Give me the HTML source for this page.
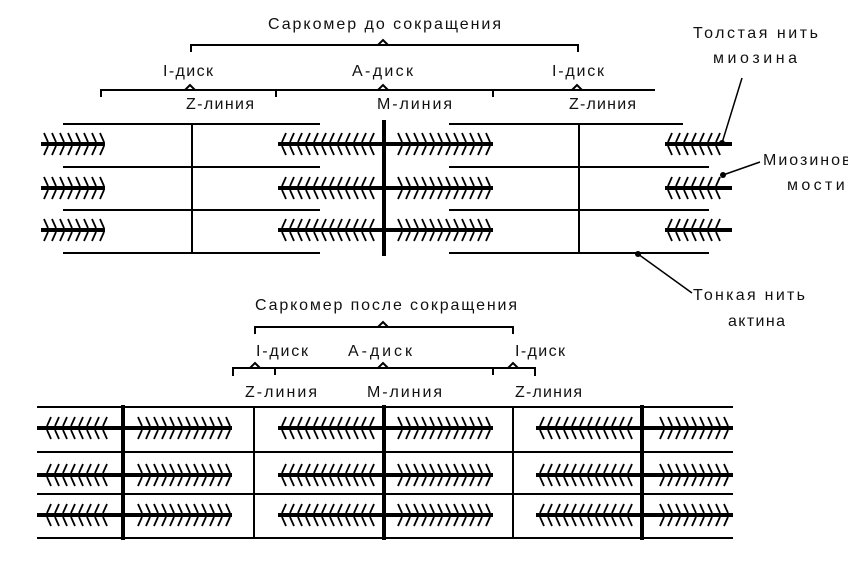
<!DOCTYPE html>
<html><head><meta charset="utf-8"><style>
html,body{margin:0;padding:0;background:#fff;width:848px;height:565px;overflow:hidden}
svg{display:block}
text{font-family:"Liberation Sans",sans-serif;font-size:16px;fill:#111}
</style></head><body>
<svg id="s" width="848" height="565" xmlns="http://www.w3.org/2000/svg">
<g stroke="#000" fill="none" stroke-width="2">
<!-- top brackets -->
<path d="M191 52 V45 H578 V52 M378 45 L383 40 L388 45"/>
<path d="M101 97 V90 H655 M185 90 L190 85 L195 90 M378 90 L383 85 L388 90 M572 90 L577 85 L582 90 M276 90 V97 M493 90 V97"/>
<!-- bottom brackets -->
<path d="M255 334 V327 H513 V334 M378 327 L383 322 L388 327"/>
<path d="M233 376 V368 H535 V376 M250 368 L255 363 L260 368 M378 368 L383 363 L388 368 M508 368 L513 363 L518 368 M275 368 V375 M493 368 V375"/>
<!-- top actin -->
<path d="M63 124H320 M63 167H320 M63 210H320 M63 253H320 M449 124H683 M449 167H709 M449 210H709 M449 253H709"/>
<path d="M192 124V253 M579 124V253"/>
<!-- bottom actin -->
<path d="M37 407H733 M37 452H733 M37 494H733 M37 538H733 M254 407V538 M513 407V538"/>
<!-- thick lines -->
<path stroke-width="4" d="M384 120V256 M123 405V540 M384 405V540 M642 405V540"/>
<!-- leaders -->
<path stroke-width="1.5" d="M742 78 L722 143 M760 162 L723 175 M638 254 L692 293"/>
</g>
<g fill="#000"><circle cx="722" cy="143" r="3"/><circle cx="723" cy="175" r="3"/><circle cx="638" cy="254" r="3"/></g>
<g id="m"></g>
<text x="268" y="29" textLength="233" lengthAdjust="spacing">Саркомер до сокращения</text>
<text x="163" y="76" textLength="50" lengthAdjust="spacing">I-диск</text>
<text x="352" y="76" textLength="61" lengthAdjust="spacing">A-диск</text>
<text x="552" y="76" textLength="52" lengthAdjust="spacing">I-диск</text>
<text x="186" y="109" textLength="68" lengthAdjust="spacing">Z-линия</text>
<text x="377" y="109" textLength="75" lengthAdjust="spacing">M-линия</text>
<text x="569" y="109" textLength="67" lengthAdjust="spacing">Z-линия</text>
<text x="255" y="310" textLength="262" lengthAdjust="spacing">Саркомер после сокращения</text>
<text x="256" y="356" textLength="52" lengthAdjust="spacing">I-диск</text>
<text x="348" y="356" textLength="64" lengthAdjust="spacing">A-диск</text>
<text x="515" y="356" textLength="50" lengthAdjust="spacing">I-диск</text>
<text x="245" y="397" textLength="72" lengthAdjust="spacing">Z-линия</text>
<text x="367" y="397" textLength="75" lengthAdjust="spacing">M-линия</text>
<text x="515" y="397" textLength="67" lengthAdjust="spacing">Z-линия</text>
<text x="693" y="38" textLength="125" lengthAdjust="spacing">Толстая нить</text>
<text x="713" y="63" textLength="84" lengthAdjust="spacing">миозина</text>
<text x="763" y="165" textLength="112" lengthAdjust="spacing">Миозиновый</text>
<text x="787" y="190" textLength="68" lengthAdjust="spacing">мостик</text>
<text x="693" y="300" textLength="112" lengthAdjust="spacing">Тонкая нить</text>
<text x="728" y="326" textLength="57" lengthAdjust="spacing">актина</text>
</svg>
<script>
var g=document.getElementById('m'),ns='http://www.w3.org/2000/svg',d='',h='';
function seg(x1,x2,y){d+='M'+x1+' '+y+'H'+x2;}
function hairs(a,b,y,dir){for(var x=a;x<=b;x+=8){if(dir<0){h+='M'+x+' '+(y-2)+'L'+(x+4)+' '+(y-11)+'M'+x+' '+(y+2)+'L'+(x+4)+' '+(y+11);}else{h+='M'+(x+4)+' '+(y-2)+'L'+x+' '+(y-11)+'M'+(x+4)+' '+(y+2)+'L'+x+' '+(y+11);}}}
[144,188,230].forEach(function(y){
seg(41,105,y);hairs(44,100,y,1);
seg(278,493,y);hairs(282,372,y,-1);hairs(398,488,y,1);
seg(665,732,y);hairs(668,716,y,-1);});
[428,475,515].forEach(function(y){
seg(37,232,y);hairs(47,107,y,-1);hairs(138,226,y,1);
seg(278,493,y);hairs(282,370,y,-1);hairs(398,488,y,1);
seg(536,733,y);hairs(540,630,y,-1);hairs(660,724,y,1);});
var p=document.createElementNS(ns,'path');p.setAttribute('d',d);p.setAttribute('stroke','#000');p.setAttribute('stroke-width','4');g.appendChild(p);
var q=document.createElementNS(ns,'path');q.setAttribute('d',h);q.setAttribute('stroke','#000');q.setAttribute('stroke-width','1.8');q.setAttribute('fill','none');g.appendChild(q);
</script>
</body></html>
